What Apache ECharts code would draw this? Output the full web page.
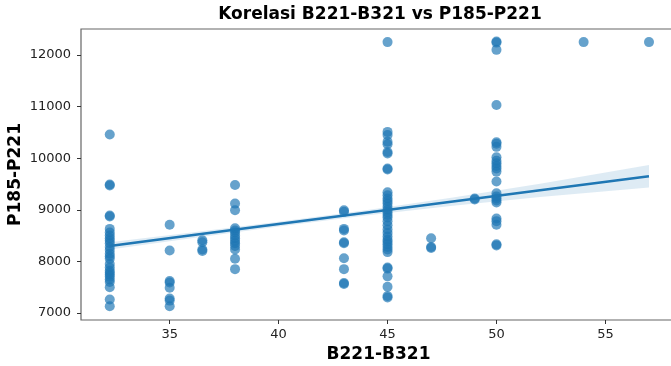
<!DOCTYPE html>
<html>
<head>
<meta charset="utf-8">
<script src="https://cdn.jsdelivr.net/npm/echarts@6/dist/echarts.min.js"></script>
<style>
html,body{margin:0;padding:0;background:#fff;}
#chart{width:671px;height:366px;}
</style>
</head>
<body>
<div id="chart"></div>
<script>
// nilai B221-B321 (kolom) dan P185-P221 per kolom
var colX = [32.25, 35, 36.5, 38, 43, 45, 47, 49, 50, 54, 57];
var colY = [
	[10460, 9490, 9470, 8890, 8870, 8630, 8560, 8500, 8450, 8400, 8350, 8280, 8220, 8150, 8100, 8050, 7950, 7880, 7820, 7780, 7740, 7700, 7650, 7600, 7500, 7260, 7130],
	[8710, 8210, 7620, 7590, 7490, 7280, 7240, 7130],
	[8410, 8370, 8230, 8200],
	[9480, 9120, 8990, 8640, 8600, 8560, 8500, 8450, 8400, 8350, 8300, 8230, 8050, 7850],
	[8990, 8960, 8630, 8600, 8370, 8350, 8060, 7850, 7580, 7560],
	[12250, 10510, 10450, 10320, 10270, 10120, 10090, 9800, 9780, 9340, 9280, 9220, 9170, 9120, 9060, 9000, 8950, 8900, 8850, 8780, 8700, 8620, 8550, 8480, 8420, 8380, 8330, 8280, 8230, 8180, 7880, 7860, 7710, 7510, 7330, 7300],
	[8450, 8280, 8260],
	[9220, 9200],
	[12260, 12240, 12100, 11030, 10310, 10280, 10220, 10020, 9950, 9900, 9850, 9800, 9740, 9550, 9320, 9260, 9220, 9180, 9140, 8830, 8780, 8710, 8330, 8310],
	[12250],
	[12250]
];
// garis regresi + interval kepercayaan
var fitX = [32.25, 36, 40, 44, 48, 52, 57];
var fitY = [8300, 8505, 8723, 8941, 9159, 9377, 9650];
var ciLow = [8230, 8450, 8678, 8891, 9079, 9247, 9430];
var ciHigh = [8370, 8560, 8768, 8991, 9239, 9507, 9870];
var xTicks = [35, 40, 45, 50, 55];
var yTicks = [7000, 8000, 9000, 10000, 11000, 12000];

var points = [];
for (var i = 0; i < colX.length; i++) {
	for (var j = 0; j < colY[i].length; j++) {
		points.push([colX[i], colY[i][j]]);
	}
}
var fitLine = [], band = [];
for (var k = 0; k < fitX.length; k++) {
	fitLine.push([fitX[k], fitY[k]]);
	band.push([fitX[k], ciLow[k], ciHigh[k]]);
}

var font = 'DejaVu Sans';
var option = {
	animation: false,
	title: {
		text: 'Korelasi B221-B321 vs P185-P221',
		left: 375, top: 1, textAlign: 'center',
		textStyle: {fontFamily: font, fontSize: 17, fontWeight: 'bold', color: '#000'}
	},
	grid: {
		left: 81, top: 29, right: -5, bottom: 46,
		show: true, borderColor: '#666', borderWidth: 1.2,
		outerBoundsMode: 'none'
	},
	xAxis: {
		type: 'value', min: 30.93, max: 58.24,
		name: 'B221-B321', nameLocation: 'middle', nameGap: 26,
		nameTextStyle: {fontFamily: font, fontSize: 17, fontWeight: 'bold', color: '#000'},
		axisLine: {show: false},
		splitLine: {show: false},
		axisTick: {show: true, customValues: xTicks, length: 4, lineStyle: {color: '#333'}},
		axisLabel: {customValues: xTicks, margin: 8, fontFamily: font, fontSize: 13, color: '#222'}
	},
	yAxis: {
		type: 'value', min: 6864, max: 12504,
		name: 'P185-P221', nameLocation: 'middle', nameGap: 57, nameMoveOverlap: false,
		nameTextStyle: {fontFamily: font, fontSize: 17, fontWeight: 'bold', color: '#000'},
		axisLine: {show: false},
		splitLine: {show: false},
		axisTick: {show: true, customValues: yTicks, length: 4, lineStyle: {color: '#333'}},
		axisLabel: {
			customValues: yTicks, margin: 10, fontFamily: font, fontSize: 13, color: '#222',
			formatter: function (v) { return String(v); }
		}
	},
	series: [
		{
			type: 'scatter',
			data: points,
			symbolSize: 10,
			itemStyle: {color: 'rgba(31,119,180,0.85)'},
			z: 2
		},
		{
			type: 'custom',
			data: band,
			z: 3,
			renderItem: function (params, api) {
				if (params.dataIndex !== 0) return;
				var pts = [];
				for (var a = 0; a < band.length; a++) pts.push(api.coord([band[a][0], band[a][2]]));
				for (var b = band.length - 1; b >= 0; b--) pts.push(api.coord([band[b][0], band[b][1]]));
				return {
					type: 'polygon',
					shape: {points: pts},
					style: {fill: 'rgba(31,119,180,0.15)', stroke: null}
				};
			}
		},
		{
			type: 'line',
			data: fitLine,
			showSymbol: false,
			lineStyle: {color: '#1f77b4', width: 2.5},
			z: 4
		}
	]
};
var mychart = echarts.init(document.getElementById('chart'));
mychart.setOption(option);
</script>
</body>
</html>
